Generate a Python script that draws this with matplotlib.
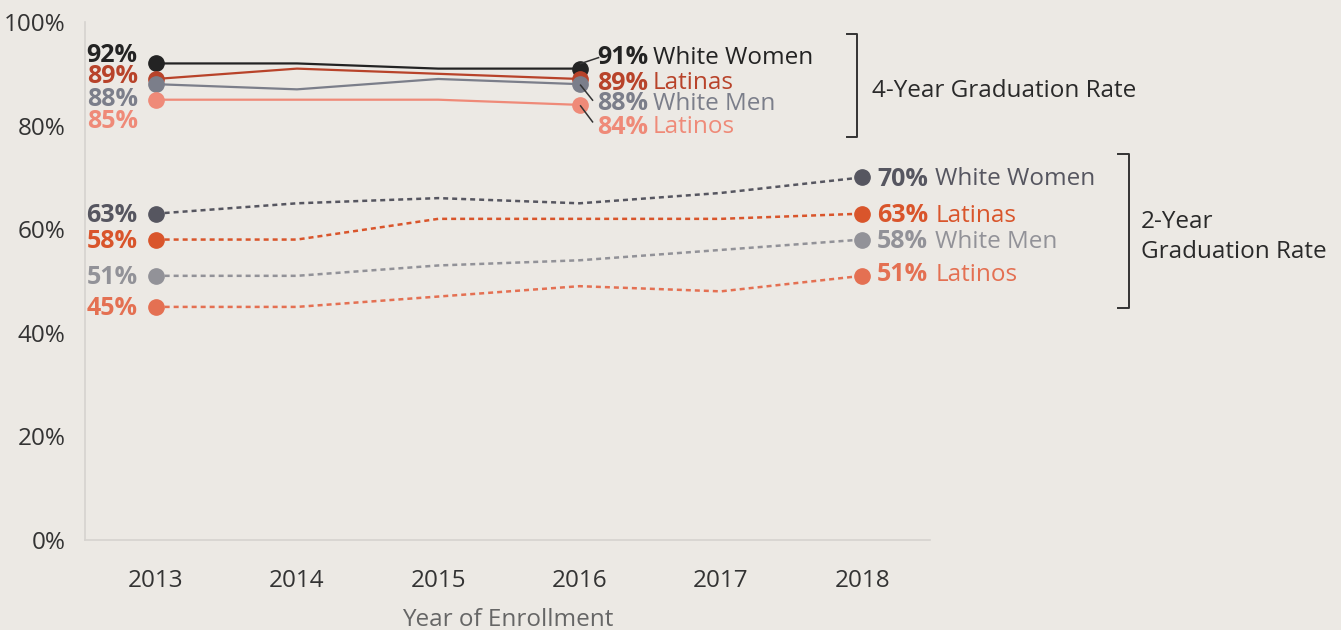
import matplotlib
matplotlib.use("Agg")
import matplotlib.pyplot as plt
from matplotlib.transforms import offset_copy
from matplotlib.lines import Line2D

plt.rcParams['font.family'] = ['Open Sans', 'DejaVu Sans']

years4 = [2013, 2014, 2015, 2016]
years2 = [2013, 2014, 2015, 2016, 2017, 2018]
groups = ["White Women", "Latinas", "White Men", "Latinos"]

four_white_women = [92, 92, 91, 91]
four_latinas = [89, 91, 90, 89]
four_white_men = [88, 87, 89, 88]
four_latinos = [85, 85, 85, 84]

two_white_women = [63, 65, 66, 65, 67, 70]
two_latinas = [58, 58, 62, 62, 62, 63]
two_white_men = [51, 51, 53, 54, 56, 58]
two_latinos = [45, 45, 47, 49, 48, 51]

yticks = [0, 20, 40, 60, 80, 100]
ytick_labels = ["0%", "20%", "40%", "60%", "80%", "100%"]
xlabel = "Year of Enrollment"
bracket4_text = "4-Year Graduation Rate"
bracket2_text = "2-Year\nGraduation Rate"

four_series = [four_white_women, four_latinas, four_white_men, four_latinos]
two_series = [two_white_women, two_latinas, two_white_men, two_latinos]

four_colors = ["#232323", "#B8432A", "#7B7E8A", "#EF8A78"]
two_colors = ["#565660", "#D9552B", "#929298", "#E47052"]

BG = "#ECE9E4"
W, H = 1341, 630
fig = plt.figure(figsize=(W / 100, H / 100), dpi=100, facecolor=BG)
ax = fig.add_axes([85 / W, 1 - 540 / H, (930 - 85) / W, (540 - 22) / H])
ax.set_facecolor(BG)
ax.set_xlim(2012.5, 2018.48)
ax.set_ylim(0, 100)

FS = 17.5
FSB = 18
VSHIFT = -2  # text vertical-centre correction, pixels
for vals, c in zip(four_series, four_colors):
    ax.plot(years4, vals, color=c, lw=1.6, solid_capstyle='round', zorder=2)
    ax.plot([years4[0], years4[-1]], [vals[0], vals[-1]], 'o', color=c, ms=11, zorder=3)
for vals, c in zip(two_series, two_colors):
    ax.plot(years2, vals, color=c, lw=1.8, ls=(0, (2.0, 1.6)), zorder=2)
    ax.plot([years2[0], years2[-1]], [vals[0], vals[-1]], 'o', color=c, ms=11, zorder=3)

# left labels (pixel offsets from the first point)
left4_dy = [10, 4, -13, -20]
for vals, c, dy in zip(four_series, four_colors, left4_dy):
    ax.annotate(f"{vals[0]}%", (years4[0], vals[0]), xytext=(-18, dy + VSHIFT), textcoords='offset pixels',
                ha='right', va='center', fontsize=FSB, fontweight='bold', color=c)
for vals, c in zip(two_series, two_colors):
    ax.annotate(f"{vals[0]}%", (years2[0], vals[0]), xytext=(-18, VSHIFT), textcoords='offset pixels',
                ha='right', va='center', fontsize=FSB, fontweight='bold', color=c)

# right labels 4-year
right4_pos = [(69, 55), (69, 80), (69, 101), (69, 124)]
for vals, c, g, (dx, sy) in zip(four_series, four_colors, groups, right4_pos):
    y0 = 540 - vals[-1] * 5.18
    dy = y0 - sy + VSHIFT - 1
    ax.annotate(f"{vals[-1]}%", (years4[-1], vals[-1]), xytext=(dx, dy), textcoords='offset pixels',
                ha='right', va='center', fontsize=FSB, fontweight='bold', color=c)
    ax.annotate(g, (years4[-1], vals[-1]), xytext=(dx + 4, dy), textcoords='offset pixels',
                ha='left', va='center', fontsize=FS, color=c)

# leader lines
leaders = [(0, (1, 5), (19, 11)), (2, (1, -1), (13, -16)), (3, (1, -1), (13, -17))]
for i, (x1, y1), (x2, y2) in leaders:
    vals = four_series[i]
    t1 = offset_copy(ax.transData, fig=fig, x=x1, y=y1, units='dots')
    p1 = t1.transform((years4[-1], vals[-1]))
    t2 = offset_copy(ax.transData, fig=fig, x=x2, y=y2, units='dots')
    p2 = t2.transform((years4[-1], vals[-1]))
    fig.add_artist(Line2D([p1[0] / W, p2[0] / W], [p1[1] / H, p2[1] / H],
                          transform=fig.transFigure, color="#333333", lw=1.1))

# right labels 2-year
right2_dy = [0, 0, 0, 3]
right2_dx = [66, 66, 66, 66]
for vals, c, g, dy, dx in zip(two_series, two_colors, groups, right2_dy, right2_dx):
    ax.annotate(f"{vals[-1]}%", (years2[-1], vals[-1]), xytext=(dx, dy + VSHIFT), textcoords='offset pixels',
                ha='right', va='center', fontsize=FSB, fontweight='bold', color=c)
    ax.annotate(g, (years2[-1], vals[-1]), xytext=(dx + 7, dy + VSHIFT), textcoords='offset pixels',
                ha='left', va='center', fontsize=FS, color=c)

# axes styling
for s in ['top', 'right']:
    ax.spines[s].set_visible(False)
for s in ['left', 'bottom']:
    ax.spines[s].set_color("#D6D3CF")
    ax.spines[s].set_linewidth(1.2)
ax.set_yticks(yticks)
ax.set_yticklabels(ytick_labels)
ax.set_xticks(years2)
ax.tick_params(length=0, labelsize=FS, colors="#333333")
ax.tick_params(axis='y', pad=14)
ax.tick_params(axis='x', pad=21)
ax.set_xlabel(xlabel, fontsize=FS, color="#666666", labelpad=11)

# brackets
def bracket(x, y0, y1, tick):
    fig.add_artist(Line2D([(x - tick) / W, x / W, x / W, (x - tick) / W],
                          [1 - y0 / H, 1 - y0 / H, 1 - y1 / H, 1 - y1 / H],
                          transform=fig.transFigure, color="#333333", lw=1.4))

bracket(857, 34, 137, 10)
bracket(1129, 154, 308, 11)
fig.text(872 / W, 1 - 91 / H, bracket4_text, ha='left', va='center', fontsize=FS, color="#2A2A2A")
fig.text(1141 / W, 1 - 237 / H, bracket2_text, ha='left', va='center', fontsize=FS,
         color="#2A2A2A", linespacing=1.3)

fig.savefig("out.png", dpi=100, facecolor=BG)
